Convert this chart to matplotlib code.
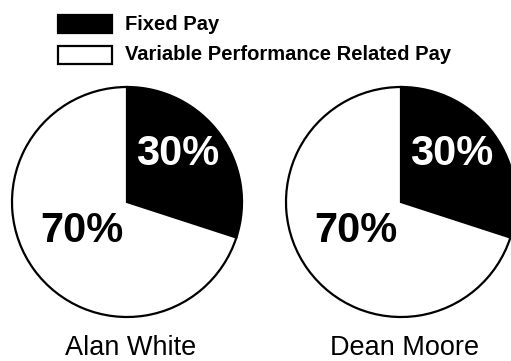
import matplotlib.pyplot as plt
from matplotlib.patches import Rectangle

plt.rcParams['font.family'] = ['Liberation Sans', 'DejaVu Sans']

# pay split per employee
names = ['Alan White', 'Dean Moore']
fixed_pay = [30, 30]
variable_pay = [70, 70]
legend_labels = ['Fixed Pay', 'Variable Performance Related Pay']
colors = ['black', 'white']

W, H = 511, 361
fig = plt.figure(figsize=(W / 100, H / 100), dpi=100)
ax = fig.add_axes([0, 0, 1, 1])

centers_x = [127, 401]
center_y = H - 202
radius = 115

for cx, name, fx, vr in zip(centers_x, names, fixed_pay, variable_pay):
    ax.pie([fx, vr], colors=colors, startangle=90, counterclock=False,
           center=(cx, center_y), radius=radius, frame=True,
           wedgeprops=dict(edgecolor='black', linewidth=1.6))
    ax.text(cx + 51, center_y + 48, f'{fx}%', color='white', fontsize=30,
            fontweight='bold', ha='center', va='center')
    ax.text(cx - 45, center_y - 29, f'{vr}%', color='black', fontsize=30,
            fontweight='bold', ha='center', va='center')
    ax.text(cx + 4, 6, name, fontsize=19.5, ha='center', va='baseline')

# legend boxes
for i, (lab, col) in enumerate(zip(legend_labels, colors)):
    top = 15 + i * 31
    ax.add_patch(Rectangle((58, H - top - 18), 54, 18, facecolor=col,
                           edgecolor='black', linewidth=1.6))
    ax.text(125, H - top - 9, lab, fontsize=14.5, fontweight='bold',
            ha='left', va='center')

ax.set_xlim(0, W)
ax.set_ylim(0, H)
ax.set_aspect('equal')
ax.axis('off')

fig.savefig('out.png', dpi=100)
